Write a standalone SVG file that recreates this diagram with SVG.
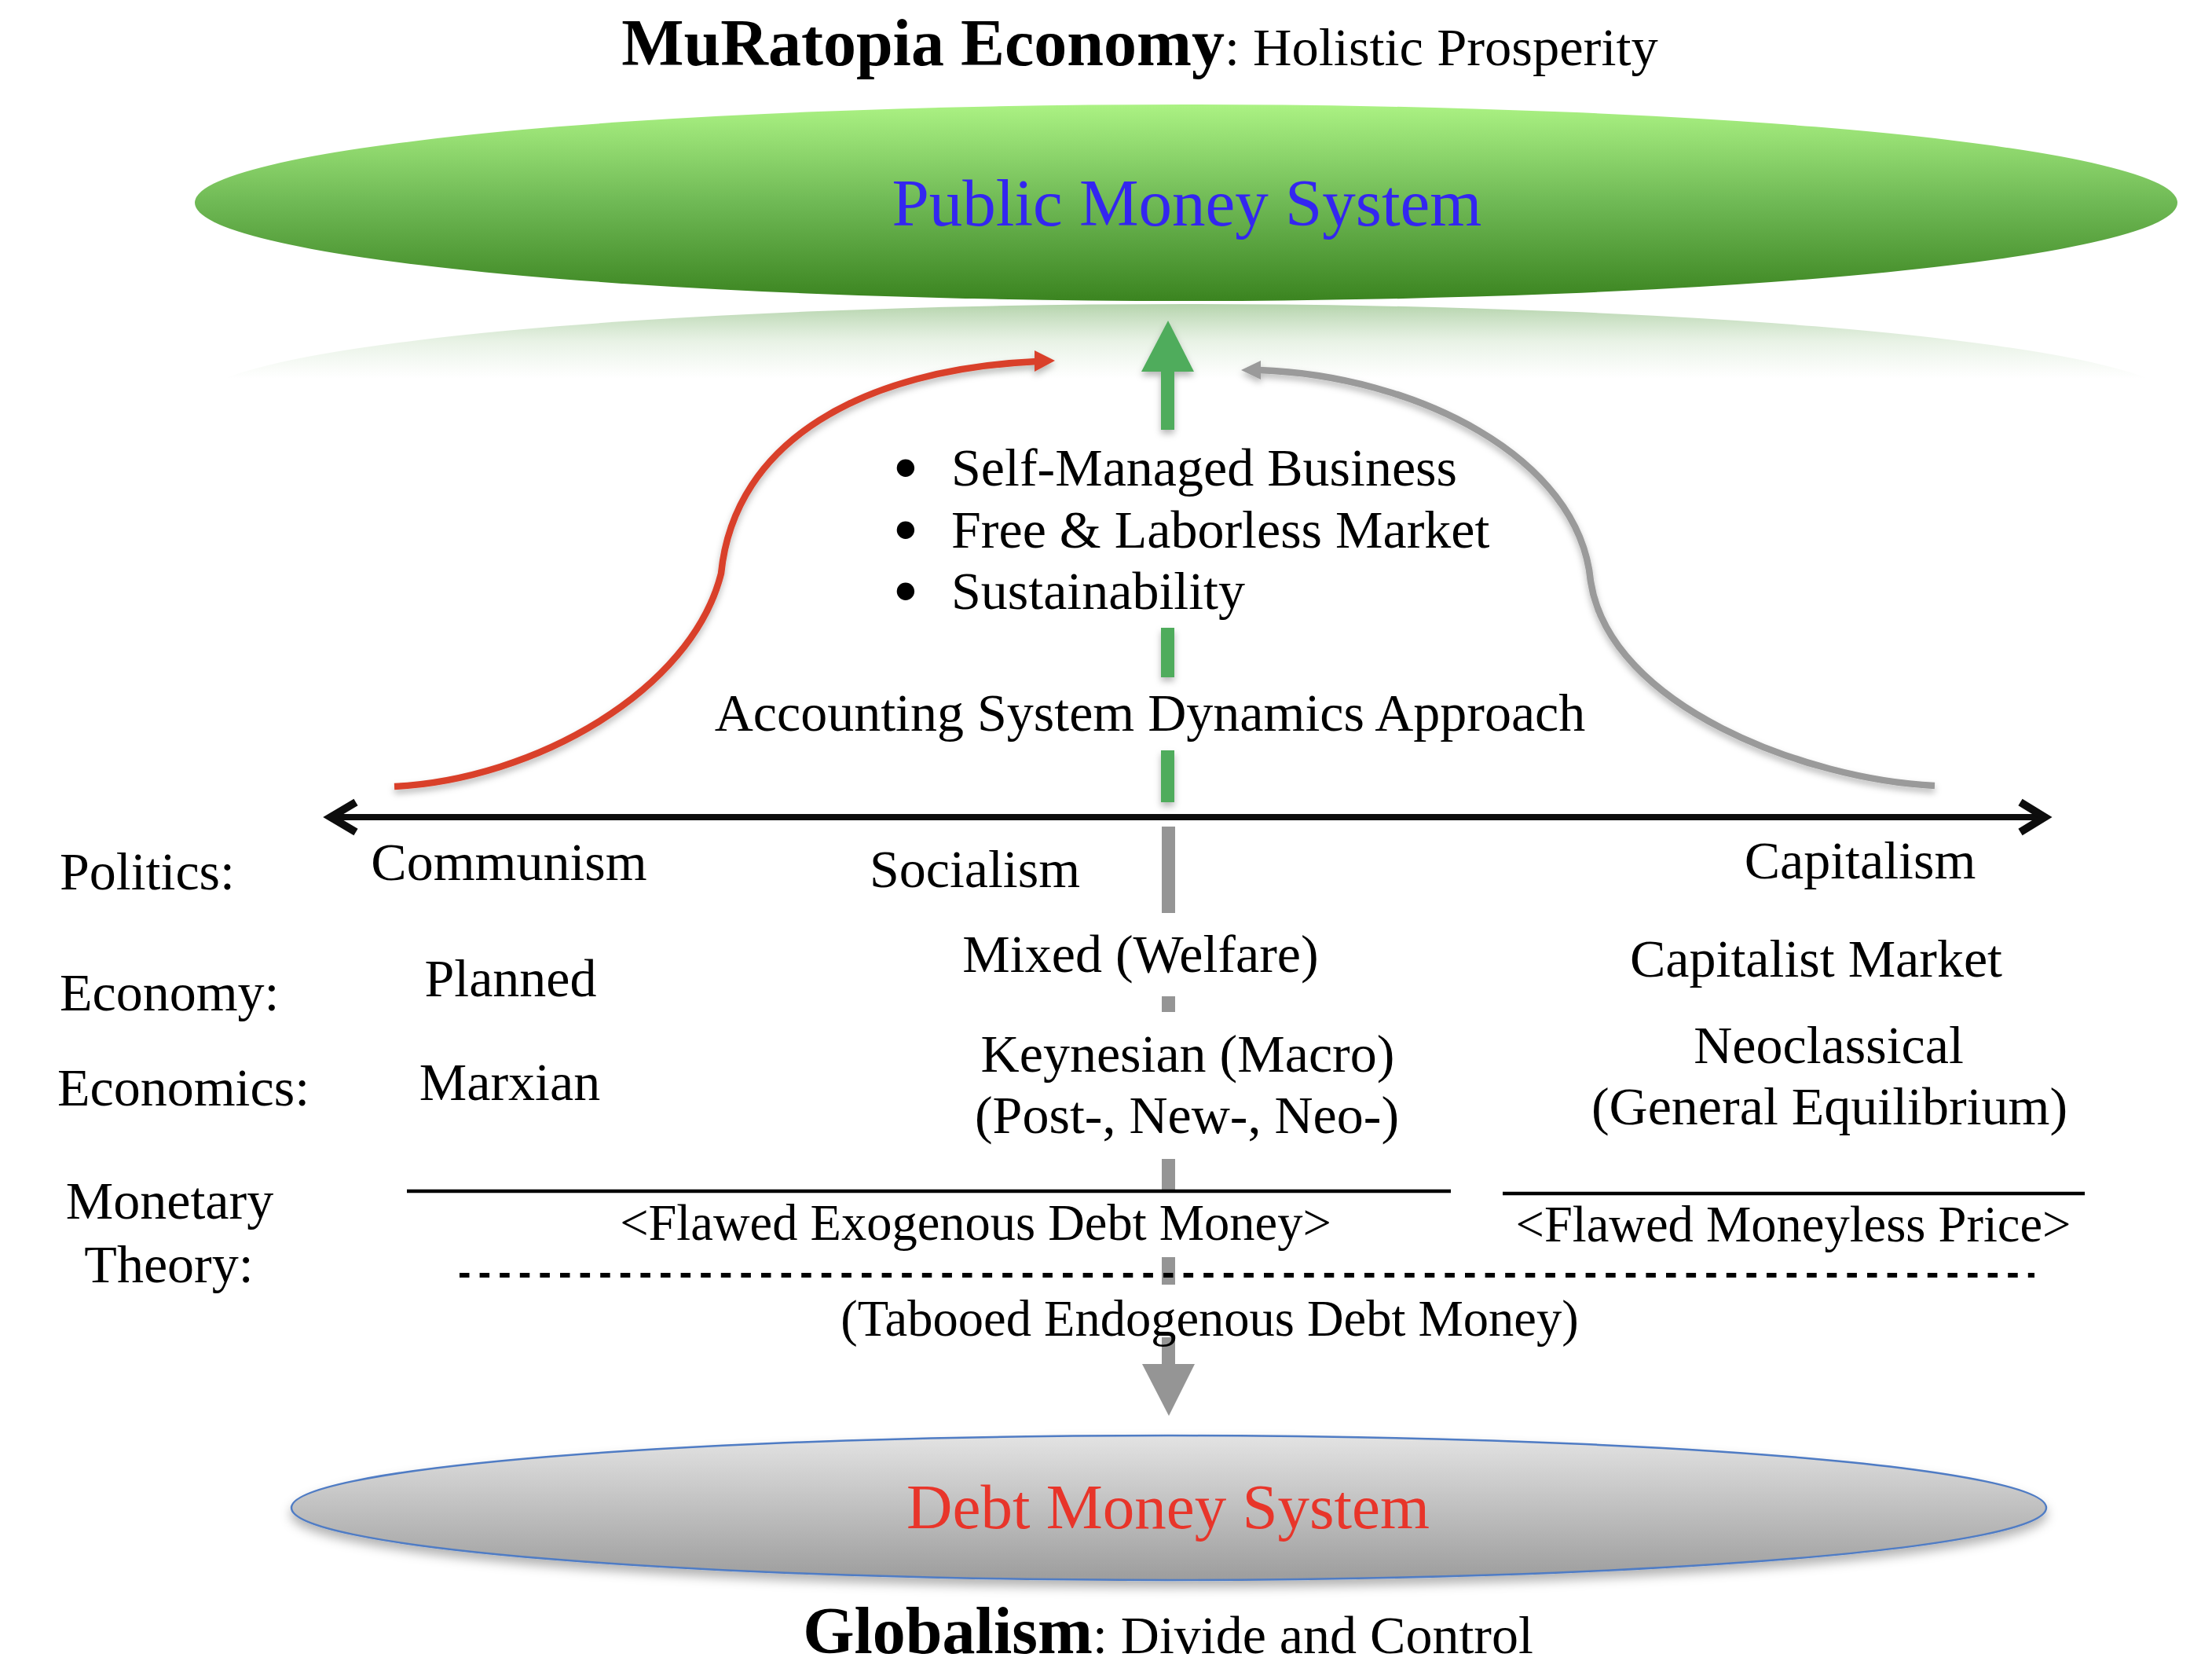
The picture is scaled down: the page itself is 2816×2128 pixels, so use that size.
<svg xmlns="http://www.w3.org/2000/svg" width="2816" height="2128" viewBox="0 0 2816 2128">
<style>
  text { font-family: "Liberation Serif", "Times New Roman", serif; fill: #000; }
  .t { font-size: 68px; }
  .s { font-size: 64.5px; }
  .bul { font-family: "Liberation Sans", Arial, sans-serif; font-size: 68px; text-anchor: middle; stroke: #000; stroke-width: 4px; }
  .mid { text-anchor: middle; }
  .b { font-weight: bold; }
</style>
<defs>
  <linearGradient id="gGreen" x1="0" y1="0" x2="0" y2="1">
    <stop offset="0" stop-color="#abf283"/>
    <stop offset="0.5" stop-color="#6fb955"/>
    <stop offset="1" stop-color="#3b8420"/>
  </linearGradient>
  <linearGradient id="gRefl" gradientUnits="userSpaceOnUse" x1="0" y1="387" x2="0" y2="482">
    <stop offset="0" stop-color="#78b068" stop-opacity="0.55"/>
    <stop offset="0.5" stop-color="#8dbf80" stop-opacity="0.2"/>
    <stop offset="1" stop-color="#a0c894" stop-opacity="0"/>
  </linearGradient>
  <linearGradient id="gGray" x1="0" y1="0" x2="0" y2="1">
    <stop offset="0" stop-color="#e3e3e3"/>
    <stop offset="1" stop-color="#9d9d9d"/>
  </linearGradient>
  <filter id="sh" x="-20%" y="-20%" width="140%" height="140%">
    <feDropShadow dx="0" dy="5" stdDeviation="4" flood-color="#000" flood-opacity="0.28"/>
  </filter>
  <filter id="shE" x="-10%" y="-20%" width="120%" height="150%">
    <feDropShadow dx="0" dy="8" stdDeviation="7" flood-color="#000" flood-opacity="0.3"/>
  </filter>
</defs>
<rect width="2816" height="2128" fill="#fff"/>

<g id="title">
  <text x="1451" y="83" class="mid"><tspan class="b" font-size="84">MuRatopia Economy</tspan><tspan font-size="68.5">: Holistic Prosperity</tspan></text>
</g>

<g id="public-money-system">
  <ellipse cx="1510" cy="512" rx="1262" ry="125" fill="url(#gRefl)"/>
  <ellipse cx="1510" cy="258" rx="1262" ry="125" fill="url(#gGreen)"/>
  <text x="1511" y="287" class="mid" font-size="85" style="fill:#3326f0">Public Money System</text>
</g>

<g id="connectors">
  <!-- red curve -->
  <g filter="url(#sh)">
    <path d="M502,1001 C 680,992 880,880 918,730 C 935,560 1100,470 1320,460" fill="none" stroke="#d9402b" stroke-width="8.5"/>
    <polygon points="1343,459 1317,446 1317,473" fill="#d9402b"/>
  </g>
  <!-- gray curve -->
  <g filter="url(#sh)">
    <path d="M2463,1000 C 2300,992 2050,900 2025,740 C 2010,580 1800,478 1603,471" fill="none" stroke="#9a9a9a" stroke-width="8.5"/>
    <polygon points="1580,471 1605,459 1605,483" fill="#9a9a9a"/>
  </g>
  <!-- green up arrow (upper part of vertical axis) -->
  <g filter="url(#sh)" fill="#4fac5b">
    <polygon points="1487,408 1453,473 1520,473"/>
    <rect x="1478" y="472" width="17" height="75"/>
    <rect x="1478" y="799" width="17" height="63"/>
    <rect x="1478" y="955" width="17" height="66"/>
  </g>
  <!-- gray down arrow (lower part of vertical axis) -->
  <g fill="#959595">
    <rect x="1479" y="1052" width="17" height="110"/>
    <rect x="1479" y="1268" width="17" height="20"/>
    <rect x="1479" y="1475" width="17" height="40"/>
    <rect x="1479" y="1600" width="17" height="35"/>
    <rect x="1479" y="1702" width="17" height="35"/>
    <polygon points="1454,1736 1521,1736 1488,1802"/>
  </g>
  <!-- political spectrum axis -->
  <g stroke="#0d0d0d" fill="none">
    <line x1="424" y1="1040" x2="2600" y2="1040" stroke-width="8"/>
    <polyline points="453,1021 421,1040 453,1059" stroke-width="10"/>
    <polyline points="2572,1021 2603,1040 2572,1059" stroke-width="10"/>
  </g>
  <!-- monetary theory separators -->
  <line x1="518" y1="1516" x2="1847" y2="1516" stroke="#000" stroke-width="4.5"/>
  <line x1="1913" y1="1519" x2="2654" y2="1519" stroke="#000" stroke-width="4.5"/>
  <line x1="585" y1="1623" x2="2590" y2="1623" stroke="#000" stroke-width="6" stroke-dasharray="12.5 13.1"/>
</g>

<g id="muratopia-features">
  <text x="1153" y="618" class="bul">•</text>
  <text x="1211" y="618" class="t">Self-Managed Business</text>
  <text x="1153" y="697" class="bul">•</text>
  <text x="1211" y="697" class="t">Free &amp; Laborless Market</text>
  <text x="1153" y="775" class="bul">•</text>
  <text x="1211" y="775" class="t">Sustainability</text>
  <text x="1464" y="930" class="t mid">Accounting System Dynamics Approach</text>
</g>

<g id="row-labels">
  <text x="76" y="1132" class="t">Politics:</text>
  <text x="76" y="1286" class="t">Economy:</text>
  <text x="73" y="1407" class="t">Economics:</text>
  <text x="216" y="1551" class="t mid">Monetary</text>
  <text x="215" y="1632" class="t mid">Theory:</text>
</g>

<g id="communism">
  <text x="648" y="1120" class="t mid">Communism</text>
  <text x="650" y="1268" class="t mid">Planned</text>
  <text x="649" y="1400" class="t mid">Marxian</text>
</g>

<g id="socialism">
  <text x="1241" y="1129" class="t mid">Socialism</text>
  <text x="1452" y="1237" class="t mid">Mixed (Welfare)</text>
  <text x="1512" y="1364" class="t mid">Keynesian (Macro)</text>
  <text x="1511" y="1442" class="t mid">(Post-, New-, Neo-)</text>
</g>

<g id="capitalism">
  <text x="2368" y="1118" class="t mid">Capitalism</text>
  <text x="2312" y="1243" class="t mid">Capitalist Market</text>
  <text x="2328" y="1353" class="t mid">Neoclassical</text>
  <text x="2329" y="1431" class="t mid">(General Equilibrium)</text>
</g>

<g id="monetary-theory">
  <text x="1242" y="1578" class="s mid">&lt;Flawed Exogenous Debt Money&gt;</text>
  <text x="2283" y="1580" class="s mid">&lt;Flawed Moneyless Price&gt;</text>
  <text x="1540" y="1700" class="s mid">(Tabooed Endogenous Debt Money)</text>
</g>

<g id="debt-money-system">
  <ellipse cx="1488" cy="1919" rx="1117" ry="92" fill="url(#gGray)" stroke="#4f7bc4" stroke-width="2.5" filter="url(#shE)"/>
  <text x="1487" y="1945" class="mid" font-size="81" style="fill:#e8352a">Debt Money System</text>
</g>

<g id="footer">
  <text x="1487" y="2104" class="mid"><tspan class="b" font-size="84">Globalism</tspan><tspan font-size="68">: Divide and Control</tspan></text>
</g>
</svg>
